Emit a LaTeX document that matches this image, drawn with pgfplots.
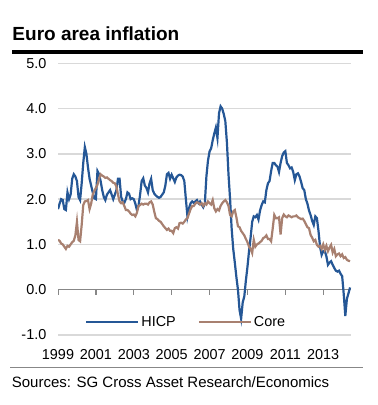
\documentclass[border=0pt]{standalone}
\usepackage{pgfplots}
\pgfplotsset{compat=1.18}
\usepackage{pgfplotstable}
\usepackage{fontspec}
\setmainfont{Liberation Sans}
\definecolor{hicp}{RGB}{37,87,150}
\definecolor{core}{RGB}{168,128,112}
\definecolor{gridc}{RGB}{217,217,217}
\definecolor{zeroc}{RGB}{135,135,135}

\pgfplotstableread{
m hicp core
0 1.78 1.10
1 1.90 1.08
2 2.00 1.02
3 1.98 1.00
4 1.78 0.95
5 1.76 0.90
6 2.15 0.97
7 2.00 0.95
8 2.10 1.00
9 2.45 1.05
10 2.55 1.08
11 2.50 1.20
12 2.40 1.50
13 2.05 1.10
14 1.98 1.07
15 2.35 1.43
16 2.80 1.87
17 3.15 1.95
18 3.00 1.96
19 2.70 1.98
20 2.45 1.78
21 2.30 1.90
22 2.15 2.10
23 2.02 2.18
24 2.00 2.25
25 2.62 2.32
26 2.55 2.45
27 2.40 2.55
28 2.20 2.52
29 2.05 2.50
30 1.98 2.47
31 2.10 2.48
32 2.15 2.45
33 2.20 2.42
34 2.10 2.40
35 2.00 2.36
36 2.10 2.35
37 2.20 2.28
38 2.45 2.10
39 2.45 1.95
40 2.05 1.91
41 1.95 1.93
42 1.92 1.85
43 2.00 1.76
44 2.15 1.76
45 2.12 1.73
46 2.00 1.68
47 2.02 1.65
48 2.00 1.66
49 1.90 1.62
50 1.76 1.70
51 1.85 1.85
52 2.10 1.87
53 2.40 1.90
54 2.46 1.88
55 2.30 1.90
56 2.25 1.90
57 2.15 1.88
58 2.35 1.93
59 2.45 1.95
60 2.20 1.88
61 2.12 1.72
62 2.08 1.58
63 2.05 1.56
64 2.03 1.52
65 2.05 1.50
66 2.10 1.45
67 2.15 1.40
68 2.30 1.36
69 2.55 1.32
70 2.58 1.35
71 2.45 1.30
72 2.54 1.30
73 2.46 1.25
74 2.38 1.36
75 2.48 1.38
76 2.52 1.35
77 2.54 1.47
78 2.53 1.48
79 2.50 1.46
80 2.40 1.50
81 2.00 1.55
82 1.62 1.58
83 1.80 1.68
84 1.91 1.78
85 1.95 1.85
86 1.92 1.85
87 1.95 1.90
88 1.98 1.93
89 1.91 1.92
90 1.95 1.88
91 1.88 1.91
92 1.82 1.85
93 1.90 1.91
94 2.50 1.88
95 2.85 1.95
96 3.05 1.91
97 3.12 1.88
98 3.30 1.98
99 3.45 1.80
100 3.58 1.73
101 3.35 1.78
102 3.90 1.75
103 4.05 1.85
104 4.00 1.91
105 3.88 1.95
106 3.72 1.98
107 3.25 1.93
108 2.55 1.85
109 2.00 1.65
110 1.35 1.62
111 0.90 1.73
112 0.60 1.76
113 0.28 1.60
114 0.00 1.40
115 -0.45 1.38
116 -0.64 1.30
117 -0.28 1.25
118 -0.15 1.20
119 0.20 1.12
120 0.50 1.05
121 0.85 0.95
122 1.15 0.90
123 1.50 0.81
124 1.62 1.10
125 1.60 0.95
126 1.65 1.00
127 1.55 1.02
128 1.75 1.05
129 1.87 1.08
130 1.95 1.14
131 1.93 1.16
132 2.20 1.20
133 2.35 1.12
134 2.40 1.12
135 2.62 1.07
136 2.80 1.35
137 2.80 1.65
138 2.75 1.58
139 2.72 1.58
140 2.60 1.60
141 2.80 1.22
142 2.95 1.58
143 3.03 1.66
144 3.06 1.62
145 2.80 1.60
146 2.75 1.64
147 2.68 1.62
148 2.70 1.60
149 2.60 1.62
150 2.42 1.62
151 2.55 1.64
152 2.57 1.60
153 2.50 1.58
154 2.38 1.56
155 2.24 1.57
156 2.20 1.52
157 2.00 1.45
158 1.90 1.38
159 1.75 1.36
160 1.65 1.21
161 1.52 1.15
162 1.43 1.07
163 1.62 1.10
164 1.58 0.99
165 1.30 0.95
166 0.95 0.97
167 0.77 0.90
168 0.85 1.00
169 0.85 0.88
170 0.74 0.97
171 0.55 0.85
172 0.60 0.93
173 0.63 0.99
174 0.55 0.82
175 0.48 0.90
176 0.42 0.74
177 0.40 0.78
178 0.42 0.80
179 0.35 0.74
180 0.30 0.78
181 -0.10 0.70
182 -0.58 0.72
183 -0.20 0.66
184 -0.08 0.64
185 0.05 0.63
}\datatable

\begin{document}
\begin{tikzpicture}
\useasboundingbox (0,0) rectangle (378bp,405bp);
\node[anchor=base west, inner sep=0pt, font=\bfseries\fontsize{19bp}{21bp}\selectfont] at (12.3bp,364bp) {Euro area inflation};
\fill[black] (12bp,351bp) rectangle (363bp,355bp);
\draw[zeroc, line width=1.2bp] (10bp,37.5bp) -- (363bp,37.5bp);
\node[anchor=base west, inner sep=0pt, font=\fontsize{15bp}{17bp}\selectfont] at (11.7bp,18bp) {Sources: SG Cross Asset Research/Economics};
\begin{axis}[
  at={(58bp,70bp)}, anchor=south west,
  scale only axis, width=293bp, height=271.7bp,
  xmin=0, xmax=185.6, ymin=-1, ymax=5,
  axis line style={draw=none},
  tick style={draw=none}, major tick length=0pt,
  ytick={-1,0,1,2,3,4,5},
  ymajorgrids, grid style={gridc, line width=1.3bp},
  xtick={0,24,48,72,96,120,144,168},
  xticklabels={1999,2001,2003,2005,2007,2009,2011,2013},
  every tick label/.append style={font=\fontsize{14.4bp}{17bp}\selectfont},
  xticklabel style={anchor=base, yshift=-24.5bp},
  yticklabel style={anchor=east, inner sep=0pt, xshift=-11.5bp,
    /pgf/number format/fixed, /pgf/number format/fixed zerofill, /pgf/number format/precision=1},
  /pgf/number format/assume math mode=true,
  legend style={at={(rel axis cs:0.0922,0.048)}, anchor=west, draw=none, fill=none,
    inner sep=0pt, font=\fontsize{14.4bp}{17bp}\selectfont,
    /tikz/every even column/.append style={column sep=20bp}},
  legend columns=2,
  legend image code/.code={\draw[#1] (0bp,0bp) -- (52bp,0bp);},
]
\draw[zeroc, line width=1.3bp] (axis cs:0,0) -- (axis cs:185.6,0);
\pgfplotsinvokeforeach{0,24,48,72,96,120,144,168}{
  \draw[zeroc, line width=1.3bp] (axis cs:#1,0) -- ([yshift=-5bp]axis cs:#1,0);
}
\addplot[hicp, line width=2.2bp, no markers] table[x=m, y=hicp] {\datatable};
\addlegendentry{HICP}
\addplot[core, line width=2.2bp, no markers] table[x=m, y=core] {\datatable};
\addlegendentry{Core}
\end{axis}
\end{tikzpicture}
\end{document}
